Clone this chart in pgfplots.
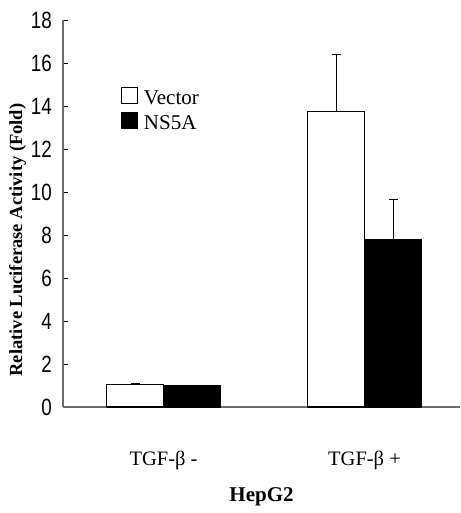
\documentclass[border=0pt]{standalone}
\usepackage{fontspec}
\setmainfont{Liberation Serif}
\newfontfamily\ticksfont{Liberation Sans}[FakeStretch=0.8]
\usepackage{pgfplots}
\pgfplotsset{compat=1.18}

\begin{document}
\begin{tikzpicture}
\useasboundingbox (-63pt,-106pt) rectangle (397pt,407pt);
\begin{axis}[
    scale only axis,
    width=397pt, height=387pt,
    xmin=-0.5, xmax=1.475,
    ymin=0, ymax=18,
    axis lines=left,
    axis line style={-, draw=gray!85!black, line width=1.3pt},
    ybar=0pt, bar width=57pt,
    ytick={0,2,...,18},
    xtick={0,1},
    xticklabels={TGF-β -, TGF-β +},
    extra x ticks={0.5},
    extra x tick labels={},
    extra x tick style={major tick length=8pt},
    tick align=inside,
    major tick length=5pt,
    tick style={black, line width=0.8pt},
    x tick style={draw=none},
    extra x tick style={tick style={draw=black, line width=0.8pt}},
    /pgf/number format/assume math mode=true,
    yticklabel style={font=\ticksfont\fontsize{23.5}{24}\selectfont, inner sep=0pt, xshift=-11pt},
    xticklabel style={font=\fontsize{20.5}{24}\selectfont, anchor=base, inner sep=0pt, yshift=-58pt},
    ylabel={Relative Luciferase Activity (Fold)},
    ylabel style={font=\bfseries\fontsize{18.5}{20}\selectfont, at={([xshift=-45.5pt]rel axis cs:0,0.4315)}, anchor=center},
    xlabel={HepG2},
    xlabel style={font=\bfseries\fontsize{21}{24}\selectfont, at={(rel axis cs:0.5,0)}, anchor=base, inner sep=0pt, yshift=-94pt},
    legend style={draw=none, fill=none, inner sep=0pt, at={(rel axis cs:0,1)}, anchor=north west,
        xshift=58pt, yshift=-67pt, row sep=6pt, column sep=6pt,
        font=\fontsize{21}{24}\selectfont,
        nodes={inner sep=0pt}},
    legend cell align=left,
    legend image code/.code={\draw[#1, line width=0.8pt] (0pt,-5pt) rectangle (16pt,11pt);},
    error bars/error bar style={black, line width=0.9pt},
    error bars/error mark options={rotate=90, mark size=4.5pt, line width=1.3pt},
]
\addplot[draw=black, fill=white, line width=1.1pt,
    error bars/.cd, y dir=plus, y explicit]
    coordinates {(0,1.05) +- (0,0.03) (1,13.75) +- (0,2.65)};
\addlegendentry{Vector}
\addplot[draw=black, fill=black, line width=1.1pt,
    error bars/.cd, y dir=plus, y explicit]
    coordinates {(0,0.98) +- (0,0.03) (1,7.8) +- (0,1.85)};
\addlegendentry{NS5A}
\end{axis}
\end{tikzpicture}
\end{document}
